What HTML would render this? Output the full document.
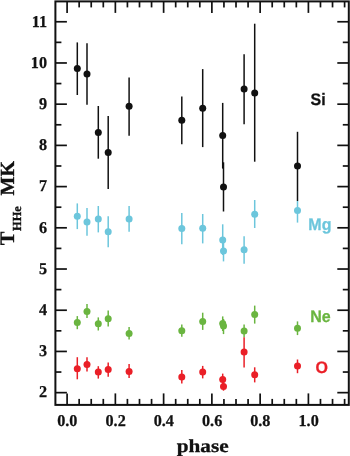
<!DOCTYPE html>
<html><head><meta charset="utf-8"><title>T vs phase</title>
<style>
html,body{margin:0;padding:0;background:#fff;}
body{width:350px;height:456px;overflow:hidden;}
svg{display:block;will-change:transform;transform:translateZ(0);}
.tk{font-family:"Liberation Serif",serif;font-weight:bold;font-size:16.2px;fill:#111111;stroke:#111111;stroke-width:0.25px;}
.ax{font-family:"Liberation Serif",serif;font-weight:bold;font-size:20.5px;fill:#111111;stroke:#111111;stroke-width:0.35px;}
.lg{font-family:"Liberation Sans",sans-serif;font-weight:bold;font-size:16px;stroke-width:0.25px;}
text{text-rendering:geometricPrecision;}
</style></head>
<body>
<svg width="350" height="456" viewBox="0 0 350 456">
<rect width="350" height="456" fill="#fff"/>
<g stroke="#6cc6dc" stroke-width="1.5" fill="#6cc6dc">
<line x1="77.3" y1="203.4" x2="77.3" y2="229.1"/>
<line x1="87.0" y1="208.0" x2="87.0" y2="235.8"/>
<line x1="98.3" y1="206.0" x2="98.3" y2="232.4"/>
<line x1="108.2" y1="216.2" x2="108.2" y2="247.3"/>
<line x1="129.1" y1="206.0" x2="129.1" y2="231.7"/>
<line x1="181.8" y1="212.9" x2="181.8" y2="244.3"/>
<line x1="202.7" y1="214.0" x2="202.7" y2="243.4"/>
<line x1="222.7" y1="224.3" x2="222.7" y2="255.0"/>
<line x1="223.5" y1="241.0" x2="223.5" y2="261.4"/>
<line x1="244.1" y1="236.3" x2="244.1" y2="263.7"/>
<line x1="254.7" y1="200.0" x2="254.7" y2="228.0"/>
<line x1="297.5" y1="201.0" x2="297.5" y2="222.6"/>
</g>
<g fill="#6cc6dc">
<circle cx="77.3" cy="216.2" r="3.5"/>
<circle cx="87.0" cy="221.9" r="3.5"/>
<circle cx="98.3" cy="219.0" r="3.5"/>
<circle cx="108.2" cy="231.7" r="3.5"/>
<circle cx="129.1" cy="219.0" r="3.5"/>
<circle cx="181.8" cy="228.6" r="3.5"/>
<circle cx="202.7" cy="228.3" r="3.5"/>
<circle cx="222.7" cy="240.0" r="3.5"/>
<circle cx="223.5" cy="251.1" r="3.5"/>
<circle cx="244.1" cy="249.7" r="3.5"/>
<circle cx="254.7" cy="214.3" r="3.5"/>
<circle cx="297.5" cy="210.5" r="3.5"/>
</g>
<g stroke="#6ab540" stroke-width="1.5" fill="#6ab540">
<line x1="77.3" y1="316.1" x2="77.3" y2="329.2"/>
<line x1="87.0" y1="304.0" x2="87.0" y2="318.1"/>
<line x1="98.3" y1="317.4" x2="98.3" y2="330.5"/>
<line x1="108.2" y1="310.4" x2="108.2" y2="326.4"/>
<line x1="129.1" y1="327.1" x2="129.1" y2="339.5"/>
<line x1="181.8" y1="324.4" x2="181.8" y2="336.7"/>
<line x1="202.7" y1="312.7" x2="202.7" y2="329.9"/>
<line x1="222.7" y1="316.4" x2="222.7" y2="331.0"/>
<line x1="223.5" y1="319.0" x2="223.5" y2="334.1"/>
<line x1="244.1" y1="324.4" x2="244.1" y2="337.3"/>
<line x1="254.7" y1="305.6" x2="254.7" y2="323.6"/>
<line x1="297.5" y1="321.4" x2="297.5" y2="335.1"/>
</g>
<g fill="#6ab540">
<circle cx="77.3" cy="322.5" r="3.5"/>
<circle cx="87.0" cy="311.5" r="3.5"/>
<circle cx="98.3" cy="323.8" r="3.5"/>
<circle cx="108.2" cy="318.7" r="3.5"/>
<circle cx="129.1" cy="333.6" r="3.5"/>
<circle cx="181.8" cy="330.7" r="3.5"/>
<circle cx="202.7" cy="321.6" r="3.5"/>
<circle cx="222.7" cy="323.6" r="3.5"/>
<circle cx="223.5" cy="325.9" r="3.5"/>
<circle cx="244.1" cy="331.0" r="3.5"/>
<circle cx="254.7" cy="314.4" r="3.5"/>
<circle cx="297.5" cy="328.2" r="3.5"/>
</g>
<g stroke="#ea1f27" stroke-width="1.5" fill="#ea1f27">
<line x1="77.3" y1="357.2" x2="77.3" y2="379.3"/>
<line x1="87.0" y1="357.2" x2="87.0" y2="371.6"/>
<line x1="98.3" y1="366.2" x2="98.3" y2="378.6"/>
<line x1="108.2" y1="362.6" x2="108.2" y2="376.8"/>
<line x1="129.1" y1="363.9" x2="129.1" y2="378.1"/>
<line x1="181.8" y1="369.9" x2="181.8" y2="383.6"/>
<line x1="202.7" y1="365.9" x2="202.7" y2="378.4"/>
<line x1="222.7" y1="373.6" x2="222.7" y2="385.0"/>
<line x1="223.5" y1="381.0" x2="223.5" y2="390.7"/>
<line x1="244.1" y1="337.3" x2="244.1" y2="367.5"/>
<line x1="254.7" y1="367.3" x2="254.7" y2="382.4"/>
<line x1="297.5" y1="359.5" x2="297.5" y2="373.2"/>
</g>
<g fill="#ea1f27">
<circle cx="77.3" cy="368.8" r="3.5"/>
<circle cx="87.0" cy="364.4" r="3.5"/>
<circle cx="98.3" cy="372.1" r="3.5"/>
<circle cx="108.2" cy="369.6" r="3.5"/>
<circle cx="129.1" cy="371.4" r="3.5"/>
<circle cx="181.8" cy="377.0" r="3.5"/>
<circle cx="202.7" cy="372.1" r="3.5"/>
<circle cx="222.7" cy="379.6" r="3.5"/>
<circle cx="223.5" cy="386.4" r="3.5"/>
<circle cx="244.1" cy="352.1" r="3.5"/>
<circle cx="254.7" cy="374.8" r="3.5"/>
<circle cx="297.5" cy="366.1" r="3.5"/>
</g>
<g stroke="#111111" stroke-width="1.5" fill="#111111">
<line x1="77.3" y1="42.4" x2="77.3" y2="95.0"/>
<line x1="87.0" y1="43.2" x2="87.0" y2="104.7"/>
<line x1="98.3" y1="106.0" x2="98.3" y2="158.7"/>
<line x1="108.2" y1="116.0" x2="108.2" y2="189.0"/>
<line x1="129.1" y1="77.4" x2="129.1" y2="135.8"/>
<line x1="181.8" y1="96.6" x2="181.8" y2="144.3"/>
<line x1="202.7" y1="69.1" x2="202.7" y2="147.1"/>
<line x1="222.7" y1="102.9" x2="222.7" y2="168.6"/>
<line x1="223.5" y1="162.3" x2="223.5" y2="211.5"/>
<line x1="244.1" y1="54.3" x2="244.1" y2="124.2"/>
<line x1="254.7" y1="23.7" x2="254.7" y2="161.7"/>
<line x1="297.5" y1="131.8" x2="297.5" y2="201.0"/>
</g>
<g fill="#111111">
<circle cx="77.3" cy="68.4" r="3.5"/>
<circle cx="87.0" cy="73.9" r="3.5"/>
<circle cx="98.3" cy="132.6" r="3.5"/>
<circle cx="108.2" cy="152.4" r="3.5"/>
<circle cx="129.1" cy="106.3" r="3.5"/>
<circle cx="181.8" cy="120.3" r="3.5"/>
<circle cx="202.7" cy="108.3" r="3.5"/>
<circle cx="222.7" cy="135.6" r="3.5"/>
<circle cx="223.5" cy="186.9" r="3.5"/>
<circle cx="244.1" cy="88.9" r="3.5"/>
<circle cx="254.7" cy="93.1" r="3.5"/>
<circle cx="297.5" cy="166.0" r="3.5"/>
</g>
<g stroke="#111111" stroke-width="1.7" fill="none" stroke-linecap="butt">
<rect x="55.4" y="1.4" width="293.40000000000003" height="403.5" stroke-width="2"/>
<line x1="67.10" y1="404.9" x2="67.10" y2="393.4"/>
<line x1="67.10" y1="1.4" x2="67.10" y2="12.9"/>
<line x1="79.16" y1="404.9" x2="79.16" y2="398.9"/>
<line x1="79.16" y1="1.4" x2="79.16" y2="7.4"/>
<line x1="91.23" y1="404.9" x2="91.23" y2="398.9"/>
<line x1="91.23" y1="1.4" x2="91.23" y2="7.4"/>
<line x1="103.30" y1="404.9" x2="103.30" y2="398.9"/>
<line x1="103.30" y1="1.4" x2="103.30" y2="7.4"/>
<line x1="115.36" y1="404.9" x2="115.36" y2="393.4"/>
<line x1="115.36" y1="1.4" x2="115.36" y2="12.9"/>
<line x1="127.42" y1="404.9" x2="127.42" y2="398.9"/>
<line x1="127.42" y1="1.4" x2="127.42" y2="7.4"/>
<line x1="139.49" y1="404.9" x2="139.49" y2="398.9"/>
<line x1="139.49" y1="1.4" x2="139.49" y2="7.4"/>
<line x1="151.56" y1="404.9" x2="151.56" y2="398.9"/>
<line x1="151.56" y1="1.4" x2="151.56" y2="7.4"/>
<line x1="163.62" y1="404.9" x2="163.62" y2="393.4"/>
<line x1="163.62" y1="1.4" x2="163.62" y2="12.9"/>
<line x1="175.69" y1="404.9" x2="175.69" y2="398.9"/>
<line x1="175.69" y1="1.4" x2="175.69" y2="7.4"/>
<line x1="187.75" y1="404.9" x2="187.75" y2="398.9"/>
<line x1="187.75" y1="1.4" x2="187.75" y2="7.4"/>
<line x1="199.81" y1="404.9" x2="199.81" y2="398.9"/>
<line x1="199.81" y1="1.4" x2="199.81" y2="7.4"/>
<line x1="211.88" y1="404.9" x2="211.88" y2="393.4"/>
<line x1="211.88" y1="1.4" x2="211.88" y2="12.9"/>
<line x1="223.94" y1="404.9" x2="223.94" y2="398.9"/>
<line x1="223.94" y1="1.4" x2="223.94" y2="7.4"/>
<line x1="236.01" y1="404.9" x2="236.01" y2="398.9"/>
<line x1="236.01" y1="1.4" x2="236.01" y2="7.4"/>
<line x1="248.08" y1="404.9" x2="248.08" y2="398.9"/>
<line x1="248.08" y1="1.4" x2="248.08" y2="7.4"/>
<line x1="260.14" y1="404.9" x2="260.14" y2="393.4"/>
<line x1="260.14" y1="1.4" x2="260.14" y2="12.9"/>
<line x1="272.21" y1="404.9" x2="272.21" y2="398.9"/>
<line x1="272.21" y1="1.4" x2="272.21" y2="7.4"/>
<line x1="284.27" y1="404.9" x2="284.27" y2="398.9"/>
<line x1="284.27" y1="1.4" x2="284.27" y2="7.4"/>
<line x1="296.34" y1="404.9" x2="296.34" y2="398.9"/>
<line x1="296.34" y1="1.4" x2="296.34" y2="7.4"/>
<line x1="308.40" y1="404.9" x2="308.40" y2="393.4"/>
<line x1="308.40" y1="1.4" x2="308.40" y2="12.9"/>
<line x1="320.47" y1="404.9" x2="320.47" y2="398.9"/>
<line x1="320.47" y1="1.4" x2="320.47" y2="7.4"/>
<line x1="332.53" y1="404.9" x2="332.53" y2="398.9"/>
<line x1="332.53" y1="1.4" x2="332.53" y2="7.4"/>
<line x1="344.60" y1="404.9" x2="344.60" y2="398.9"/>
<line x1="344.60" y1="1.4" x2="344.60" y2="7.4"/>
<line x1="55.4" y1="392.65" x2="66.9" y2="392.65"/>
<line x1="348.8" y1="392.65" x2="337.3" y2="392.65"/>
<line x1="55.4" y1="372.04" x2="61.4" y2="372.04"/>
<line x1="348.8" y1="372.04" x2="342.8" y2="372.04"/>
<line x1="55.4" y1="351.44" x2="66.9" y2="351.44"/>
<line x1="348.8" y1="351.44" x2="337.3" y2="351.44"/>
<line x1="55.4" y1="330.83" x2="61.4" y2="330.83"/>
<line x1="348.8" y1="330.83" x2="342.8" y2="330.83"/>
<line x1="55.4" y1="310.23" x2="66.9" y2="310.23"/>
<line x1="348.8" y1="310.23" x2="337.3" y2="310.23"/>
<line x1="55.4" y1="289.62" x2="61.4" y2="289.62"/>
<line x1="348.8" y1="289.62" x2="342.8" y2="289.62"/>
<line x1="55.4" y1="269.02" x2="66.9" y2="269.02"/>
<line x1="348.8" y1="269.02" x2="337.3" y2="269.02"/>
<line x1="55.4" y1="248.41" x2="61.4" y2="248.41"/>
<line x1="348.8" y1="248.41" x2="342.8" y2="248.41"/>
<line x1="55.4" y1="227.81" x2="66.9" y2="227.81"/>
<line x1="348.8" y1="227.81" x2="337.3" y2="227.81"/>
<line x1="55.4" y1="207.20" x2="61.4" y2="207.20"/>
<line x1="348.8" y1="207.20" x2="342.8" y2="207.20"/>
<line x1="55.4" y1="186.60" x2="66.9" y2="186.60"/>
<line x1="348.8" y1="186.60" x2="337.3" y2="186.60"/>
<line x1="55.4" y1="165.99" x2="61.4" y2="165.99"/>
<line x1="348.8" y1="165.99" x2="342.8" y2="165.99"/>
<line x1="55.4" y1="145.39" x2="66.9" y2="145.39"/>
<line x1="348.8" y1="145.39" x2="337.3" y2="145.39"/>
<line x1="55.4" y1="124.78" x2="61.4" y2="124.78"/>
<line x1="348.8" y1="124.78" x2="342.8" y2="124.78"/>
<line x1="55.4" y1="104.18" x2="66.9" y2="104.18"/>
<line x1="348.8" y1="104.18" x2="337.3" y2="104.18"/>
<line x1="55.4" y1="83.57" x2="61.4" y2="83.57"/>
<line x1="348.8" y1="83.57" x2="342.8" y2="83.57"/>
<line x1="55.4" y1="62.97" x2="66.9" y2="62.97"/>
<line x1="348.8" y1="62.97" x2="337.3" y2="62.97"/>
<line x1="55.4" y1="42.36" x2="61.4" y2="42.36"/>
<line x1="348.8" y1="42.36" x2="342.8" y2="42.36"/>
<line x1="55.4" y1="21.76" x2="66.9" y2="21.76"/>
<line x1="348.8" y1="21.76" x2="337.3" y2="21.76"/>
</g>
<text class="tk" transform="translate(67.3,425.5) scale(1,1.02)" text-anchor="middle">0.0</text>
<text class="tk" transform="translate(115.6,425.5) scale(1,1.02)" text-anchor="middle">0.2</text>
<text class="tk" transform="translate(163.8,425.5) scale(1,1.02)" text-anchor="middle">0.4</text>
<text class="tk" transform="translate(212.1,425.5) scale(1,1.02)" text-anchor="middle">0.6</text>
<text class="tk" transform="translate(260.3,425.5) scale(1,1.02)" text-anchor="middle">0.8</text>
<text class="tk" transform="translate(308.6,425.5) scale(1,1.02)" text-anchor="middle">1.0</text>
<text class="tk" transform="translate(47.0,397.3) scale(1,1.02)" text-anchor="end">2</text>
<text class="tk" transform="translate(47.0,356.1) scale(1,1.02)" text-anchor="end">3</text>
<text class="tk" transform="translate(47.0,314.9) scale(1,1.02)" text-anchor="end">4</text>
<text class="tk" transform="translate(47.0,273.7) scale(1,1.02)" text-anchor="end">5</text>
<text class="tk" transform="translate(47.0,232.5) scale(1,1.02)" text-anchor="end">6</text>
<text class="tk" transform="translate(47.0,191.3) scale(1,1.02)" text-anchor="end">7</text>
<text class="tk" transform="translate(47.0,150.1) scale(1,1.02)" text-anchor="end">8</text>
<text class="tk" transform="translate(47.0,108.9) scale(1,1.02)" text-anchor="end">9</text>
<text class="tk" transform="translate(47.0,67.7) scale(1,1.02)" text-anchor="end">10</text>
<text class="tk" transform="translate(47.0,26.5) scale(1,1.02)" text-anchor="end">11</text>
<text class="ax" transform="translate(202.7,451.9) scale(1.035,0.9)" text-anchor="middle">phase</text>
<g transform="translate(13.7,245.2) rotate(-90)"><text class="ax" x="0" y="0">T<tspan font-size="12.3px" dy="6.8" dx="0.6">HHe</tspan></text><text class="ax" x="49.8" y="0" font-size="20px" style="font-size:20px">MK</text></g>
<text class="lg" transform="translate(310.5,105.3) scale(1,1.04)" fill="#111111" stroke="#111111">Si</text>
<text class="lg" transform="translate(308.3,230.3) scale(1,1.04)" fill="#6cc6dc" stroke="#6cc6dc">Mg</text>
<text class="lg" transform="translate(310.2,322.0) scale(1,1.04)" fill="#6ab540" stroke="#6ab540">Ne</text>
<text class="lg" transform="translate(315.4,372.8) scale(1,1.04)" fill="#ea1f27" stroke="#ea1f27">O</text>
</svg>
</body></html>
